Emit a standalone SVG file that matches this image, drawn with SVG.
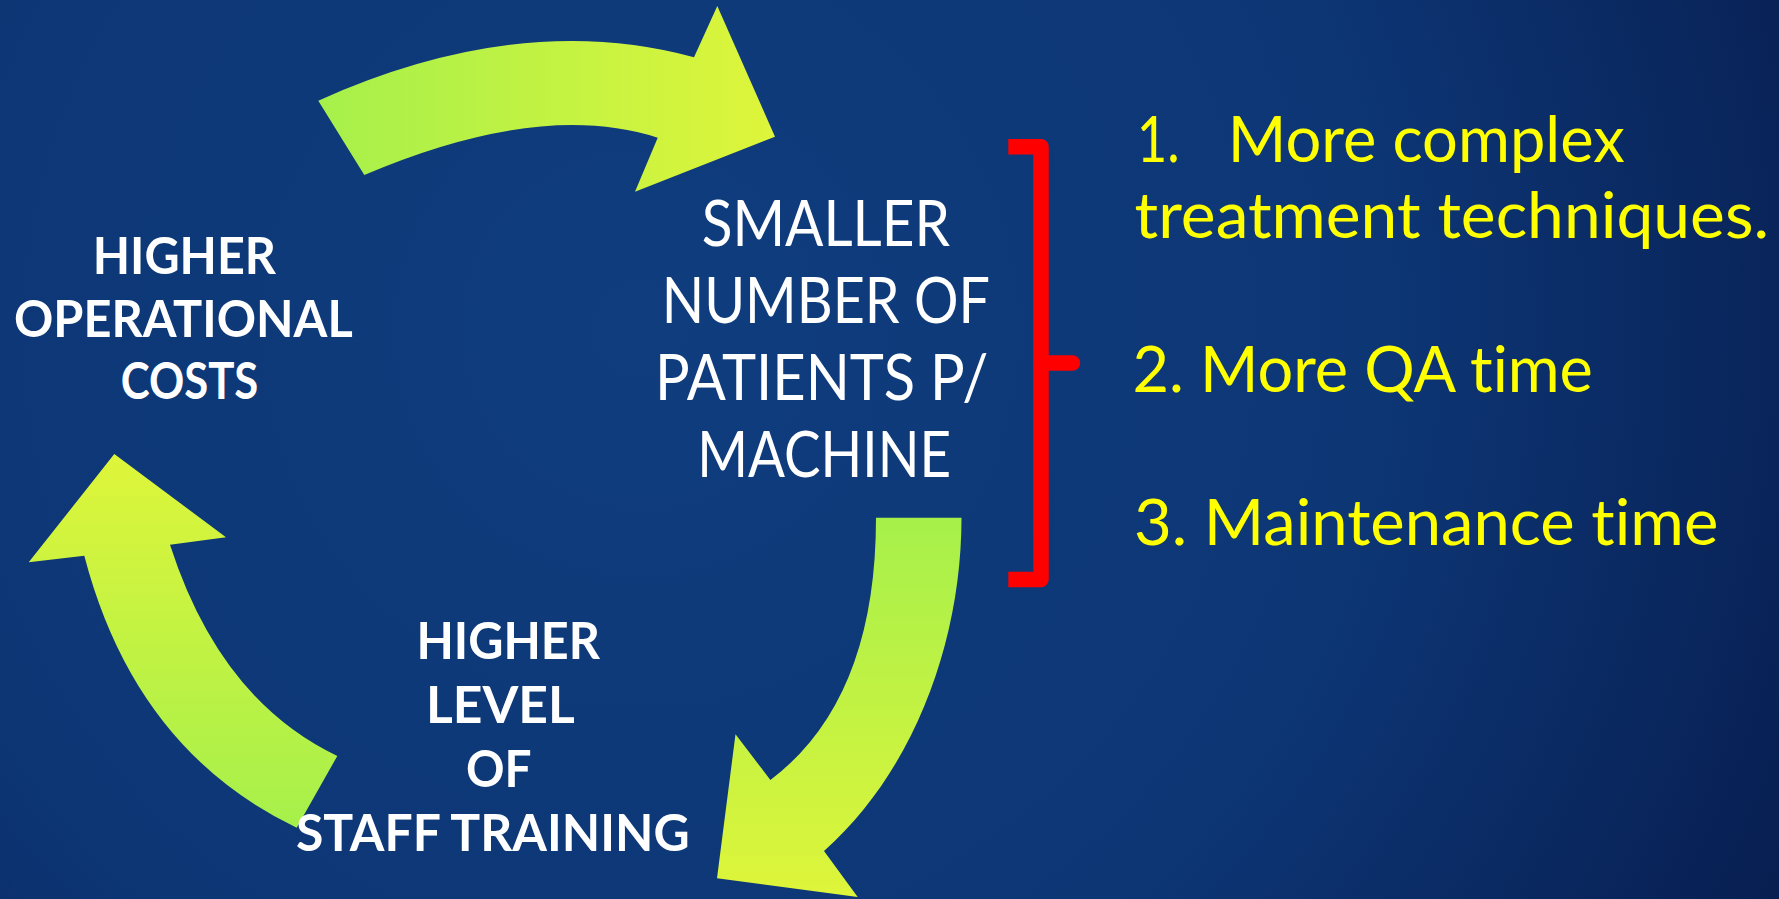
<svg xmlns="http://www.w3.org/2000/svg" width="1779" height="899" viewBox="0 0 1779 899">
  <defs>
    <radialGradient id="bg" gradientUnits="userSpaceOnUse" cx="640" cy="330" r="1350">
      <stop offset="0" stop-color="#0F3D7E"/>
      <stop offset="0.55" stop-color="#0D3675"/>
      <stop offset="1" stop-color="#071B4C"/>
    </radialGradient>
    <linearGradient id="gTop" gradientUnits="userSpaceOnUse" x1="318" y1="0" x2="775" y2="0">
      <stop offset="0" stop-color="#A6F04B"/>
      <stop offset="1" stop-color="#DEF53A"/>
    </linearGradient>
    <linearGradient id="gLeft" gradientUnits="userSpaceOnUse" x1="0" y1="828" x2="0" y2="454">
      <stop offset="0" stop-color="#A6F04B"/>
      <stop offset="1" stop-color="#DEF53A"/>
    </linearGradient>
    <linearGradient id="gBottom" gradientUnits="userSpaceOnUse" x1="0" y1="518" x2="0" y2="897">
      <stop offset="0" stop-color="#A6F04B"/>
      <stop offset="1" stop-color="#DEF53A"/>
    </linearGradient>
  </defs>
  <style>
    text { font-variant-ligatures: none; font-feature-settings: "liga" 0, "clig" 0; }
    .bold { font-family: Lato, "Open Sans", "DejaVu Sans", sans-serif; font-weight: 700; font-size: 52px; fill: #FFFFFF; }
    .reg { font-family: Lato, "Open Sans", "DejaVu Sans", sans-serif; font-weight: 400; font-size: 63px; fill: #FFFFFF; }
    .yel { font-family: Lato, "Open Sans", "DejaVu Sans", sans-serif; font-weight: 400; font-size: 63px; fill: #FFFF00; }
    .brk { fill: none; stroke: #FF0000; stroke-width: 15.5; }
  </style>

  <rect x="0" y="0" width="1779" height="899" fill="url(#bg)"/>

  <g id="connectors">
    <path id="arrow-top" fill="url(#gTop)" d="M318.3,100.7 Q520,10 694,57.3 L717.3,6 L775,136.7 L635,191.7 L657.7,137.7 Q540,100 364.3,175 Z"/>
    <path id="arrow-bottom" fill="url(#gBottom)" d="M876,517.7 L961.5,517.7 C961.5,640 915,770 824,851 L857.7,897 L717,878.3 L735.5,734.3 L770.4,780 Q876,700 876,517.7 Z"/>
    <path id="arrow-left" fill="url(#gLeft)" d="M114.3,454 L226,537.3 L170,544.7 Q220,700 337.3,756 L296.7,827.7 Q135,750 84.3,555.7 L28.7,562.3 Z"/>
  </g>

  <g id="node-costs">
    <text class="bold" x="92.7" y="274" textLength="183.3" lengthAdjust="spacingAndGlyphs">HIGHER</text>
    <text class="bold" x="14" y="336.7" textLength="338.7" lengthAdjust="spacingAndGlyphs">OPERATIONAL</text>
    <text class="bold" x="120.7" y="399.4" textLength="137.6" lengthAdjust="spacingAndGlyphs">COSTS</text>
  </g>

  <g id="node-patients">
    <text class="reg" x="701.7" y="246" textLength="248.3" lengthAdjust="spacingAndGlyphs">SMALLER</text>
    <text class="reg" x="661.7" y="323.3" textLength="328.3" lengthAdjust="spacingAndGlyphs">NUMBER OF</text>
    <text class="reg" x="655" y="400" textLength="333.3" lengthAdjust="spacingAndGlyphs">PATIENTS P/</text>
    <text class="reg" x="697.3" y="476.7" textLength="253.7" lengthAdjust="spacingAndGlyphs">MACHINE</text>
  </g>

  <g id="node-training">
    <text class="bold" x="416.4" y="659.3" textLength="183.6" lengthAdjust="spacingAndGlyphs">HIGHER</text>
    <text class="bold" x="426" y="722.7" textLength="148.8" lengthAdjust="spacingAndGlyphs">LEVEL</text>
    <text class="bold" x="466" y="786.7" textLength="65.6" lengthAdjust="spacingAndGlyphs">OF</text>
    <text class="bold" x="296" y="850.7" textLength="393.6" lengthAdjust="spacingAndGlyphs">STAFF TRAINING</text>
  </g>

  <g id="bracket">
    <path class="brk" stroke-linejoin="round" stroke-linecap="butt" d="M1008.3,146.7 H1041 V579.5 H1008.3"/>
    <path class="brk" stroke-linecap="round" d="M1041,363 H1072.5"/>
  </g>

  <g id="node-reasons">
    <text class="yel" y="161.7"><tspan x="1136.8" textLength="43" lengthAdjust="spacingAndGlyphs">1.</tspan><tspan x="1227.7" textLength="397" lengthAdjust="spacingAndGlyphs">More complex</tspan></text>
    <text class="yel" x="1134.6" y="237.7" textLength="634.4" lengthAdjust="spacingAndGlyphs">treatment techniques.</text>
    <text class="yel" x="1132.5" y="392.3" textLength="460.3" lengthAdjust="spacingAndGlyphs">2. More QA time</text>
    <text class="yel" x="1134" y="545" textLength="584.3" lengthAdjust="spacingAndGlyphs">3. Maintenance time</text>
  </g>
</svg>
